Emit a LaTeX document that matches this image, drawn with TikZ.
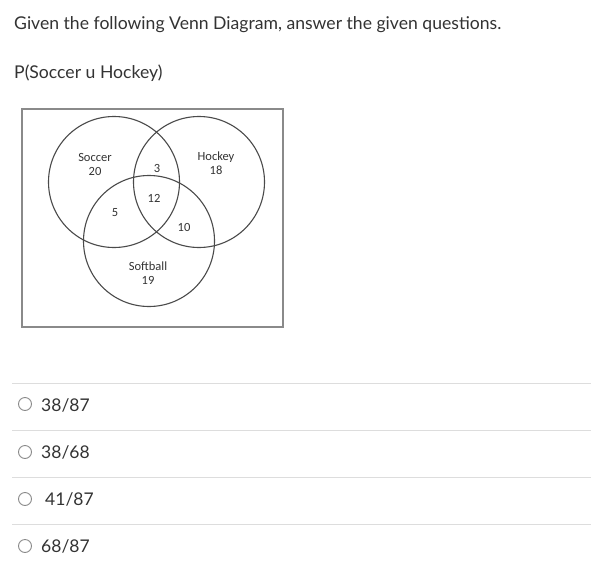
\documentclass[tikz,border=0pt]{standalone}
\usepackage{fontspec}
\setmainfont{Lato}
\newfontfamily\scanfont{Carlito}
\usepackage{tikz}
\usetikzlibrary{positioning, shapes, shapes.geometric, fit}

\definecolor{inkgray}{HTML}{333333}
\definecolor{rulegray}{HTML}{DDDDDD}
\definecolor{boxgray}{HTML}{8A8A8A}
\definecolor{setgray}{HTML}{4A4A4A}

\begin{document}
\begin{tikzpicture}[x=1pt, y=-1pt,
    prompt/.style={anchor=base west, inner sep=0pt, text=inkgray, font=\fontsize{17.6}{20}\selectfont},
    setlabel/.style={inner sep=0pt, text=inkgray, align=center, font=\scanfont\fontsize{12.5}{14}\selectfont},
    setcircle/.style={draw=setgray, line width=1.1pt, circle, minimum size=131pt, inner sep=0pt},
    radio/.style={draw=boxgray, line width=0.9pt, circle, minimum size=13pt, inner sep=0pt},
    choice/.style={anchor=base west, inner sep=0pt, text=inkgray, font=\fontsize{17.5}{20}\selectfont}]
			\useasboundingbox[fill=white] (0,0) rectangle (591,578);

			% Draw the question
			\node[prompt] (Given) at (14, 30) {Given the following Venn Diagram, answer the given questions.};
			\node[prompt] (Ask) at (14, 78) {P(Soccer u Hockey)};

			% Draw the box
			\draw[boxgray, line width=1.6pt] (22,109) rectangle (283,327);

			% Draw the three sets
			\node[setcircle] (Soccer) at (114, 182) {};
			\node[setcircle] (Hockey) at (199, 182) {};
			\node[setcircle] (Softball) at (149, 241) {};

			% Put the counts in each region
			\node[setlabel] (SoccerOnly) at (95, 164) {Soccer\\20};
			\node[setlabel] (HockeyOnly) at (216, 163) {Hockey\\18};
			\node[setlabel] (SoccerHockey) at (157, 168) {3};
			\node[setlabel] (AllThree) at (154, 198) {12};
			\node[setlabel] (SoccerSoftball) at (115, 213) {5};
			\node[setlabel] (HockeySoftball) at (184, 227) {10};
			\node[setlabel] (SoftballOnly) at (148, 273) {Softball\\19};

			% Draw the rules between the answers
			\draw[rulegray, line width=0.8pt] (12, 383) -- (591, 383);
			\draw[rulegray, line width=0.8pt] (12, 430) -- (591, 430);
			\draw[rulegray, line width=0.8pt] (12, 477) -- (591, 477);
			\draw[rulegray, line width=0.8pt] (12, 524) -- (591, 524);

			% Draw the answers
			\node[radio] (RadioA) at (25, 404) {};
			\node[choice] (ChoiceA) at (41, 411) {38/87};
			\node[radio] (RadioB) at (25, 452) {};
			\node[choice] (ChoiceB) at (41, 458) {38/68};
			\node[radio] (RadioC) at (25, 499) {};
			\node[choice] (ChoiceC) at (45, 505) {41/87};
			\node[radio] (RadioD) at (25, 546) {};
			\node[choice] (ChoiceD) at (41, 552) {68/87};

		\end{tikzpicture}
\end{document}
